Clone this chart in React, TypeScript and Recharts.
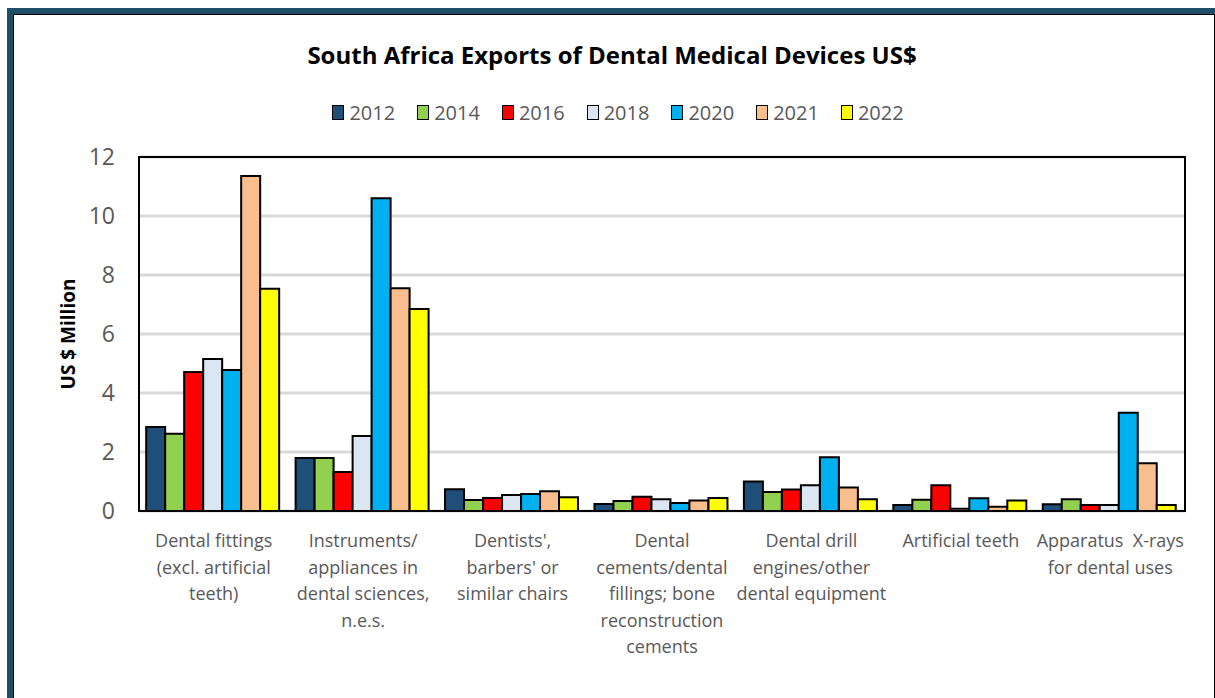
import { BarChart, Bar, XAxis, YAxis, CartesianGrid } from 'recharts';

const categories = [
    'Dental fittings|(excl. artificial|teeth)',
    'Instruments/|appliances in|dental sciences,|n.e.s.',
    "Dentists',|barbers' or|similar chairs",
    'Dental|cements/dental|fillings; bone|reconstruction|cements',
    'Dental drill|engines/other|dental equipment',
    'Artificial teeth',
    'Apparatus  X-rays|for dental uses',
];

const years = ['2012', '2014', '2016', '2018', '2020', '2021', '2022'];
const yearColors = ['#1F4E79', '#92D050', '#FF0000', '#DCE6F2', '#00B0F0', '#F8BE8E', '#FFFF00'];

const v2012 = [2.85, 1.8, 0.74, 0.24, 1.0, 0.2, 0.23];
const v2014 = [2.62, 1.8, 0.37, 0.34, 0.64, 0.38, 0.4];
const v2016 = [4.71, 1.32, 0.44, 0.48, 0.73, 0.87, 0.2];
const v2018 = [5.15, 2.54, 0.54, 0.4, 0.87, 0.08, 0.2];
const v2020 = [4.78, 10.6, 0.58, 0.27, 1.82, 0.43, 3.33];
const v2021 = [11.36, 7.55, 0.67, 0.36, 0.8, 0.14, 1.62];
const v2022 = [7.53, 6.85, 0.47, 0.44, 0.4, 0.36, 0.2];

const yTicks = [0, 2, 4, 6, 8, 10, 12];

const series = [v2012, v2014, v2016, v2018, v2020, v2021, v2022];
const data = categories.map((name, i) => {
    const row: Record<string, string | number> = { name };
    years.forEach((y, j) => (row[y] = series[j][i]));
    return row;
});

const FONT = '"Open Sans", sans-serif';
const GREY = '#595959';

// category label split on |
const CategoryTick = ({ x, y, payload }: any) => {
    const lines = String(payload.value).split('|');
    return (
        <text x={x} y={y} textAnchor="middle" fill={GREY} fontSize={18} fontFamily={FONT}>
            {lines.map((l, i) => (
                <tspan key={i} x={x} dy={i === 0 ? 34 : 26.5} style={{ whiteSpace: 'pre' }}>
                    {l}
                </tspan>
            ))}
        </text>
    );
};

export default function App() {
    return (
        <div style={{ position: 'fixed', left: 0, top: 0, width: 1215, height: 698, background: '#fff', overflow: 'hidden' }}>
            {/* outer frame */}
            <div
                style={{
                    position: 'absolute',
                    left: 7,
                    top: 8,
                    width: 1208,
                    height: 700,
                    borderTop: '6px solid #1F4E69',
                    borderLeft: '6px solid #1F4E69',
                    boxSizing: 'border-box',
                }}
            >
                <div style={{ width: '100%', height: '100%', borderTop: '1.5px solid #000', borderLeft: '1.5px solid #000', borderRight: '1.5px solid #000', boxSizing: 'border-box' }} />
            </div>

            <div
                style={{
                    position: 'absolute',
                    left: 0,
                    width: 1224,
                    top: 38,
                    textAlign: 'center',
                    fontFamily: FONT,
                    fontWeight: 'bold',
                    fontSize: 24,
                    color: '#000',
                }}
            >
                South Africa Exports of Dental Medical Devices US$
            </div>

            {/* legend */}
            <div
                style={{
                    position: 'absolute',
                    left: 0,
                    width: 1236,
                    top: 99,
                    display: 'flex',
                    justifyContent: 'center',
                    gap: 22,
                    fontFamily: FONT,
                }}
            >
                {years.map((y, i) => (
                    <div key={y} style={{ display: 'flex', alignItems: 'center', gap: 5 }}>
                        <span
                            style={{
                                width: 10,
                                height: 13,
                                background: yearColors[i],
                                border: '1.5px solid #000',
                                display: 'inline-block',
                            }}
                        />
                        <span style={{ color: GREY, fontSize: 20 }}>{y}</span>
                    </div>
                ))}
            </div>

            <div
                style={{
                    position: 'absolute',
                    left: 68,
                    top: 334,
                    transform: 'translate(-50%, -50%) rotate(-90deg)',
                    whiteSpace: 'nowrap',
                    fontFamily: FONT,
                    fontWeight: 'bold',
                    fontSize: 19,
                    color: '#000',
                }}
            >
                US $ Million
            </div>

            <div style={{ position: 'absolute', left: 0, top: 0 }}>
                <BarChart
                    width={1215}
                    height={698}
                    data={data}
                    margin={{ top: 157, right: 30, bottom: 37, left: 79 }}
                    barGap={0}
                    barCategoryGap="4.8%"
                >
                    <CartesianGrid horizontal vertical={false} stroke="#D9D9D9" strokeWidth={3} />
                    <XAxis
                        dataKey="name"
                        height={150}
                        interval={0}
                        tick={<CategoryTick />}
                        tickLine={false}
                        tickSize={0}
                        axisLine={{ stroke: '#000', strokeWidth: 2 }}
                    />
                    <YAxis
                        width={60}
                        domain={[0, 12]}
                        ticks={yTicks}
                        tickLine={false}
                        tickSize={0}
                        tickMargin={24}
                        axisLine={{ stroke: '#000', strokeWidth: 2 }}
                        tick={{ fill: GREY, fontSize: 23, fontFamily: FONT }}
                    />
                    {years.map((y, i) => (
                        <Bar
                            key={y}
                            dataKey={y}
                            fill={yearColors[i]}
                            stroke="#000"
                            strokeWidth={2}
                            isAnimationActive={false}
                        />
                    ))}
                </BarChart>
            </div>

            {/* plot area box */}
            <div
                style={{
                    position: 'absolute',
                    left: 138,
                    top: 156,
                    width: 1048,
                    height: 356,
                    border: '2px solid #000',
                    boxSizing: 'border-box',
                    pointerEvents: 'none',
                }}
            />
        </div>
    );
}
